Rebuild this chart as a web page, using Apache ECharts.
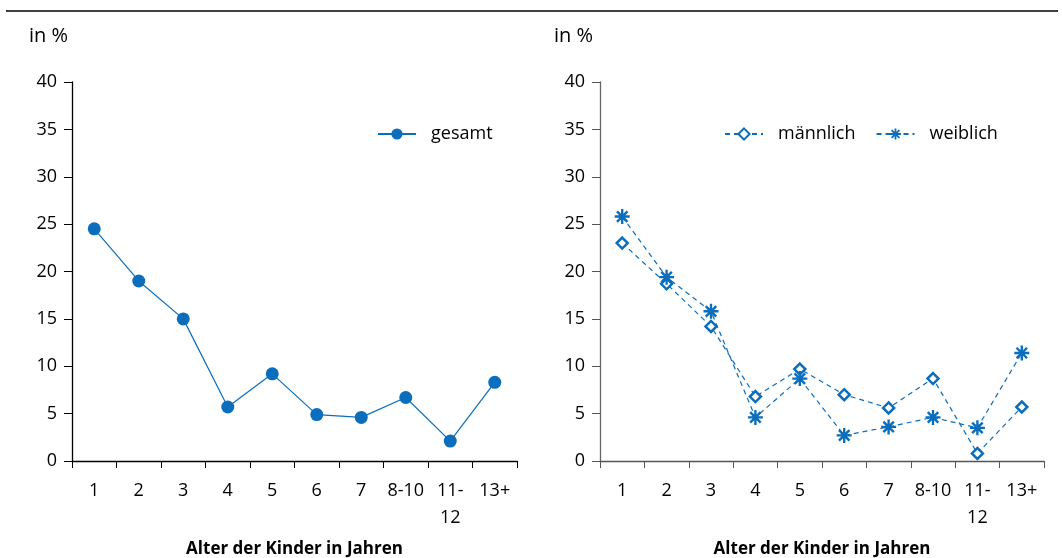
<!DOCTYPE html>
<html>
<head>
<meta charset="utf-8">
<script src="https://cdn.jsdelivr.net/npm/echarts@6/dist/echarts.min.js"></script>
<style>
  html, body { margin: 0; padding: 0; background: #fff; width: 100%; height: 100%; overflow: hidden; }
  #chart { width: 100%; height: 100%; }
</style>
</head>
<body>
<div id="chart"></div>
<script>
// Daten
var categories = ["1", "2", "3", "4", "5", "6", "7", "8-10", "11-\n12", "13+"];
var gesamt = [24.5, 19.0, 15.0, 5.7, 9.2, 4.9, 4.6, 6.7, 2.1, 8.3];
var maennlich = [23.0, 18.7, 14.2, 6.8, 9.7, 7.0, 5.6, 8.7, 0.8, 5.7];
var weiblich = [25.8, 19.4, 15.8, 4.6, 8.7, 2.7, 3.6, 4.6, 3.5, 11.4];
var yTicks = [0, 40, 5];

var blue = "#0a6ebd";
var font = "'Open Sans', sans-serif";

// Sternsymbol (senkrecht, waagrecht, zwei Diagonalen)
var star = "path://M-1.1,-7L1.1,-7L1.1,7L-1.1,7Z M-7,-1.1L7,-1.1L7,1.1L-7,1.1Z " +
  "M-5.7,-4.1L-4.1,-5.7L5.7,4.1L4.1,5.7Z M4.1,-5.7L5.7,-4.1L-4.1,5.7L-5.7,4.1Z";

var myChart = echarts.init(document.getElementById("chart"));

function xAxisOpt(idx) {
  return {
    type: "category",
    gridIndex: idx,
    data: categories,
    boundaryGap: true,
    name: "Alter der Kinder in Jahren",
    nameLocation: "middle",
    nameGap: 80,
    nameTextStyle: { fontFamily: font, fontSize: 17, fontWeight: "bold", color: "#000" },
    axisLine: { lineStyle: { color: idx ? "#555" : "#000", width: 1.3 } },
    axisTick: { show: true, length: 7, lineStyle: { color: idx ? "#555" : "#000" } },
    axisLabel: { color: "#000", fontFamily: font, fontSize: 18, margin: 16, lineHeight: 27, interval: 0 },
    splitLine: { show: false }
  };
}

function yAxisOpt(idx) {
  return {
    type: "value",
    gridIndex: idx,
    min: yTicks[0],
    max: yTicks[1],
    interval: yTicks[2],
    axisLine: { show: true, lineStyle: { color: idx ? "#666" : "#000", width: 1.3 } },
    axisTick: { show: true, length: 8, lineStyle: { color: idx ? "#555" : "#000" } },
    axisLabel: { color: "#000", fontFamily: font, fontSize: 18, margin: 15 },
    splitLine: { show: false }
  };
}

var option = {
  animation: false,
  grid: [
    { left: 72, right: 545, top: 82, bottom: 97, outerBoundsMode: "none" },
    { left: 600, right: 18, top: 82, bottom: 97, outerBoundsMode: "none" }
  ],
  xAxis: [xAxisOpt(0), xAxisOpt(1)],
  yAxis: [yAxisOpt(0), yAxisOpt(1)],
  legend: [
    {
      data: ["gesamt"],
      left: 372, top: 120,
      itemWidth: 38, itemHeight: 14,
      textStyle: { fontFamily: font, fontSize: 18, color: "#000", padding: [0, 0, 0, 10] }
    },
    {
      data: ["männlich", "weiblich"],
      left: 719, top: 120,
      itemGap: 20,
      itemWidth: 38, itemHeight: 14,
      textStyle: { fontFamily: font, fontSize: 18, color: "#000", padding: [0, 0, 0, 10] }
    }
  ],
  graphic: [
    { type: "line", shape: { x1: 6, y1: 11, x2: 1058, y2: 11 }, style: { stroke: "#000", lineWidth: 1.3 } },
    { type: "text", left: 29, top: 26, style: { text: "in %", font: "20px " + font, fill: "#000" } },
    { type: "text", left: 554, top: 26, style: { text: "in %", font: "20px " + font, fill: "#000" } }
  ],
  series: [
    {
      name: "gesamt",
      type: "line",
      xAxisIndex: 0, yAxisIndex: 0,
      data: gesamt,
      symbol: "circle",
      symbolSize: 13,
      itemStyle: { color: blue },
      lineStyle: { color: blue, width: 1.2 }
    },
    {
      name: "männlich",
      type: "line",
      xAxisIndex: 1, yAxisIndex: 1,
      data: maennlich,
      symbol: "diamond",
      symbolSize: 11,
      itemStyle: { color: "#fff", borderColor: blue, borderWidth: 2.5 },
      lineStyle: { color: blue, width: 1.2, type: [5, 4] }
    },
    {
      name: "weiblich",
      type: "line",
      xAxisIndex: 1, yAxisIndex: 1,
      data: weiblich,
      symbol: star,
      symbolSize: 15,
      itemStyle: { color: blue },
      lineStyle: { color: blue, width: 1.2, type: [5, 4] }
    }
  ]
};

myChart.setOption(option);
window.addEventListener("resize", function () { myChart.resize(); });
</script>
</body>
</html>
